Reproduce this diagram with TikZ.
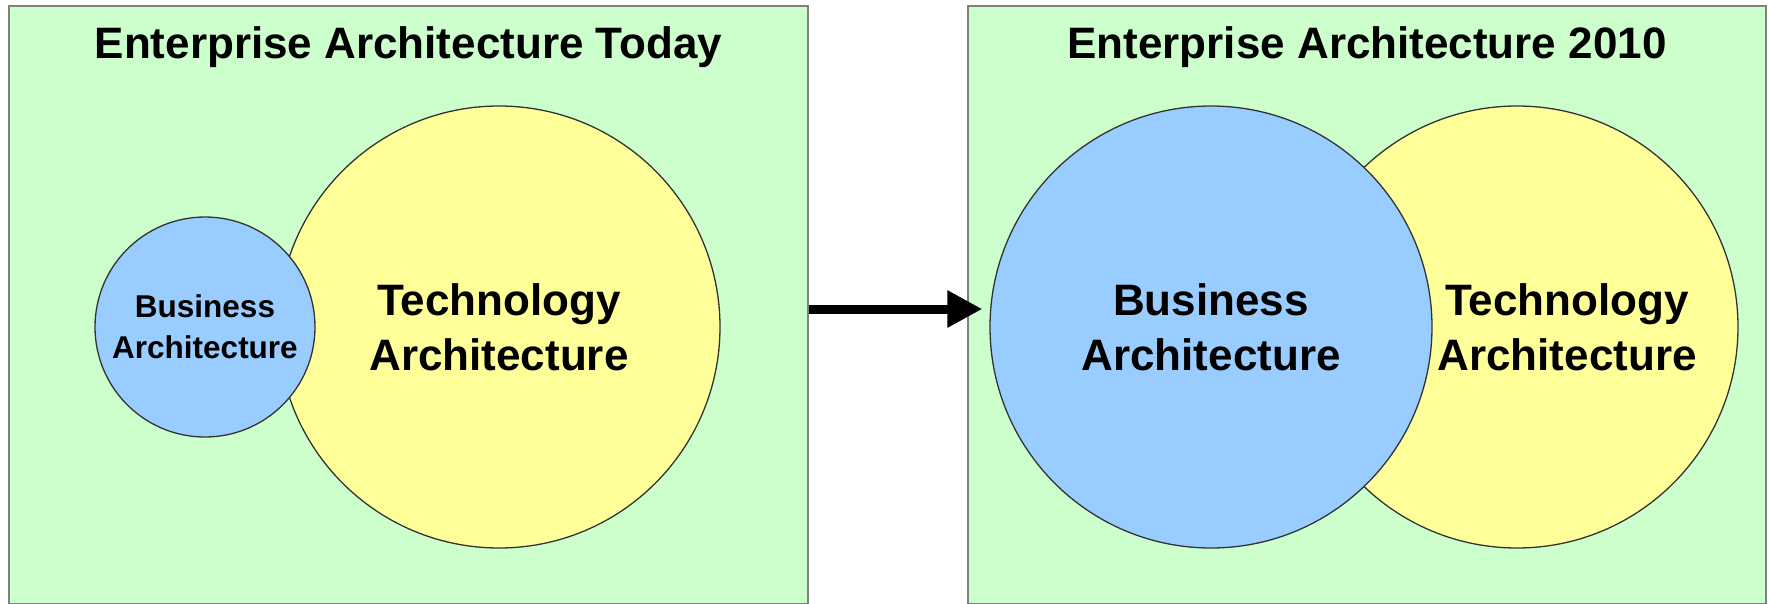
\documentclass[tikz,border=0pt]{standalone}
\usepackage{fontspec}
\setmainfont{Liberation Sans}
\usepackage{tikz}
\usetikzlibrary{positioning}
\usetikzlibrary{arrows.meta}
\definecolor{panelgreen}{HTML}{CCFFCC}
\definecolor{bizblue}{HTML}{99CCFF}
\definecolor{techyellow}{HTML}{FFFF99}
\tikzstyle{panel} = [draw=black!50,line width=2pt,fill=panelgreen,minimum width=799pt,minimum height=598pt,inner sep=0pt]
\tikzstyle{title} = [inner sep=0pt,font=\bfseries\fontsize{44}{55}\selectfont]
\tikzstyle{ring} = [circle,draw=black!80,line width=1.3pt,inner sep=0pt,align=center]
\tikzstyle{bigtext} = [inner sep=0pt,align=center,font=\bfseries\fontsize{44}{55}\selectfont]
\tikzstyle{smalltext} = [inner sep=0pt,align=center,font=\bfseries\fontsize{31.5}{41}\selectfont]
\tikzstyle{arrow} = [line width=9pt,-{Triangle[length=35pt,width=35pt]}]

\begin{document}
\begin{tikzpicture}[x=1pt,y=-1pt]
	\useasboundingbox (0,0) rectangle (1769,603);
	
	%Panels
	\node [panel] (today) at (408.5,305) {};
	\node [panel,minimum width=798pt] (future) at (1367,305) {};
	
	%Titles
	\node [title,anchor=base] (todayTitle) at ([yshift=-53pt]today.north) {Enterprise Architecture Today};
	\node [title,anchor=base] (futureTitle) at ([yshift=-53pt]future.north) {Enterprise Architecture 2010};
	
	%Circles
	\node [ring,bigtext,fill=techyellow,minimum size=442pt] (techA) at (499,327) {Technology\\Architecture};
	\node [ring,smalltext,fill=bizblue,minimum size=220pt] (bizA) at (205,327) {Business\\Architecture};
	\node [ring,fill=techyellow,minimum size=442pt] (techB) at (1517,327) {};
	\node [ring,bigtext,fill=bizblue,minimum size=442pt] (bizB) at (1211,327) {Business\\Architecture};
	\node [bigtext] (techBtxt) at ([xshift=50pt]techB.center) {Technology\\Architecture};
	
	%Lines
	\coordinate (arrowStart) at ([yshift=-4pt]today.east);
	\draw[arrow,shorten >=7pt] (arrowStart) -- (arrowStart -| bizB.west);
	
\end{tikzpicture}
\end{document}
